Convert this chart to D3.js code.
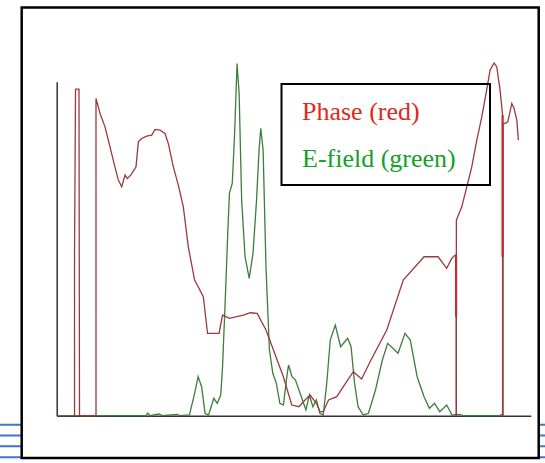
<html>
<head>
	<style>
		body { margin: 0; background: white; }
		svg { display: block; }
	</style>
	<script src="https://d3js.org/d3.v7.min.js"></script>
</head>
<body>
	<script>
		// Phase trace (x = position 0..100 along the axis, y = relative level)
		var phaseX = [3.76, 3.76, 3.97, 4.70, 4.81, 8.29, 8.29, 9.14, 10.19, 11.24, 12.09, 13.0, 13.71, 14.41, 14.89, 15.61,
			16.73, 17.22, 17.93, 18.99, 20.04, 20.74, 21.79, 22.85, 23.54, 24.6, 25.65, 26.71, 27.76, 29.09, 30.93, 31.81,
			34.24, 34.98, 36.43, 39.37, 40.84, 42.3, 44.14, 45.97, 47.81, 49.58, 51.12, 52.03, 53.44, 54.77, 55.55, 56.22,
			57.34, 59.07, 61.37, 62.57, 64.32, 66.1, 69.62, 73.1, 77.49, 80.44, 82.26, 83.33, 84.03, 84.24, 84.24, 84.3,
			84.3, 85.44, 86.5, 87.55, 88.61, 89.66, 90.57, 91.41, 92.26, 92.83, 93.52, 94.05, 94.05, 94.16, 94.16, 94.58,
			95.15, 95.99, 96.48, 97.05, 97.38];
		var phaseY = [0, 45.96, 92.3, 92.3, 0, 0, 89.66, 85.42, 81.64, 75.99, 71.3, 66.58, 64.69, 68.0, 67.06, 68.0,
			70.34, 77.4, 78.36, 79.01, 79.29, 80.9, 80.71, 79.77, 76.95, 70.34, 65.17, 59.04, 47.74, 38.33, 33.62, 23.28,
			23.28, 28.45, 27.51, 28.45, 29.1, 28.93, 24.21, 17.63, 11.02, 3.02, 2.54, 3.95, 5.85, 3.5, 1.13, 1.13,
			4.44, 5.37, 10.08, 12.43, 10.37, 15.25, 24.21, 38.33, 44.92, 44.92, 41.64, 44.46, 45.4, 45.4, 0, 0,
			55.28, 59.04, 64.69, 70.34, 77.88, 84.46, 91.07, 97.66, 99.72, 98.59, 92.0, 84.94, 0, 0, 82.6, 82.6,
			83.05, 88.25, 86.84, 83.53, 77.88];

		// bright red jumps in the phase trace
		var jumpX  = [84.24, 94.05];
		var jumpY0 = [45.4, 84.94];
		var jumpY1 = [27.97, 44.92];

		// E-field trace
		var fieldX = [0, 18.84, 19.2, 19.68, 21.58, 22.26, 25.38, 26.0, 28.0, 29.09, 29.83, 30.57, 31.29, 32.03, 33.14,
			33.86, 34.6, 34.98, 35.55, 36.08, 36.43, 37.03, 37.53, 38.04, 38.48, 39.01, 39.73, 40.61, 41.41, 42.15, 42.68,
			43.04, 43.54, 44.14, 44.87, 45.59, 46.33, 47.07, 47.81, 48.54, 48.9, 49.64, 50.36, 51.1, 51.84, 52.57, 53.31,
			54.03, 54.77, 55.51, 56.22, 56.96, 57.7, 58.76, 59.89, 61.37, 62.09, 62.83, 63.57, 64.66, 65.76, 67.24, 68.69,
			69.81, 70.91, 72.0, 73.46, 74.58, 76.03, 77.49, 78.61, 79.7, 80.8, 82.26, 83.38, 85.08, 85.72, 93.52, 93.73, 94.16];
		var fieldY = [0, 0, 0.76, 0, 0.48, 0, 0.34, 0, 0.2, 6.33, 11.02, 8.19, 0.68, 0.2, 4.92,
			3.5, 5.85, 13.84, 32.68, 51.53, 62.82, 65.65, 79.77, 99.55, 91.07, 60.93, 44.92, 38.81, 45.88, 60.93, 75.06,
			81.19, 75.06, 42.09, 18.56, 11.98, 9.15, 3.5, 3.02, 11.02, 14.32, 11.02, 10.08, 7.26, 4.44, 1.61, 5.85,
			2.54, 4.44, 0.68, 0.2, 9.15, 21.38, 25.62, 19.49, 21.86, 19.49, 9.15, 2.54, 0.2, 0.68, 7.26, 15.73,
			20.45, 19.04, 17.63, 23.28, 21.38, 11.02, 5.37, 2.09, 3.5, 1.13, 3.02, 0.2, 0.34, 0, 0, 0.34, 0];

		var legendLabels = ["Phase (red)", "E-field (green)"];
		var legendColors = ["#e0281c", "#14a02a"];

		var width = 545, height = 463;

		var svg = d3.select("body").append("svg")
			.attr("width", width)
			.attr("height", height);

		// slide decoration: blue rules peeking out behind the frame
		[424.7, 435.5, 446.3, 457.2].forEach(function(y) {
			svg.append("line").attr("x1", 0).attr("x2", width).attr("y1", y).attr("y2", y)
				.attr("stroke", "#3f74d4").attr("stroke-width", 2);
		});

		// white card with black border
		svg.append("rect")
			.attr("x", 21.7).attr("y", 7.5)
			.attr("width", 517).attr("height", 450.5)
			.attr("fill", "white")
			.attr("stroke", "black")
			.attr("stroke-width", 2.5);

		var x = d3.scaleLinear().domain([0, 100]).range([56.7, 530.8]);
		var y = d3.scaleLinear().domain([0, 94.4]).range([415.7, 81.7]);

		// axes: plain lines, no ticks
		svg.append("g")
			.attr("transform", "translate(0," + y(0) + ")")
			.call(d3.axisBottom(x).tickValues([]).tickSizeOuter(0))
			.select(".domain").attr("stroke", "#333").attr("stroke-width", 1.5);
		svg.append("g")
			.attr("transform", "translate(" + x(0) + ",0)")
			.call(d3.axisLeft(y).tickValues([]).tickSizeOuter(0))
			.select(".domain").attr("stroke", "#333").attr("stroke-width", 1.5);

		var line = d3.line()
			.x(function(d) { return x(d[0]); })
			.y(function(d) { return y(d[1]); });

		var field = d3.zip(fieldX, fieldY);
		var phase = d3.zip(phaseX, phaseY);

		svg.append("path")
			.attr("d", line(field))
			.attr("fill", "none")
			.attr("stroke", "#3d7d3d")
			.attr("stroke-width", 1.3);

		svg.append("path")
			.attr("d", line(phase))
			.attr("fill", "none")
			.attr("stroke", "#9a3a3e")
			.attr("stroke-width", 1.3);

		svg.selectAll(".jump").data(jumpX).enter().append("line")
			.attr("class", "jump")
			.attr("x1", function(d) { return x(d); })
			.attr("x2", function(d) { return x(d); })
			.attr("y1", function(d, i) { return y(jumpY0[i]); })
			.attr("y2", function(d, i) { return y(jumpY1[i]); })
			.attr("stroke", "#cc2a2a")
			.attr("stroke-width", 2.2);

		// legend box
		svg.append("rect")
			.attr("x", 281.5).attr("y", 84)
			.attr("width", 208.5).attr("height", 101)
			.attr("fill", "none")
			.attr("stroke", "black")
			.attr("stroke-width", 2);

		svg.selectAll(".legend").data(legendLabels).enter().append("text")
			.attr("class", "legend")
			.attr("x", 302)
			.attr("y", function(d, i) { return 120 + i * 47; })
			.attr("fill", function(d, i) { return legendColors[i]; })
			.style("font-family", "'Liberation Serif', 'Times New Roman', serif")
			.style("font-size", "26px")
			.text(function(d) { return d; });
	</script>
</body>
</html>
